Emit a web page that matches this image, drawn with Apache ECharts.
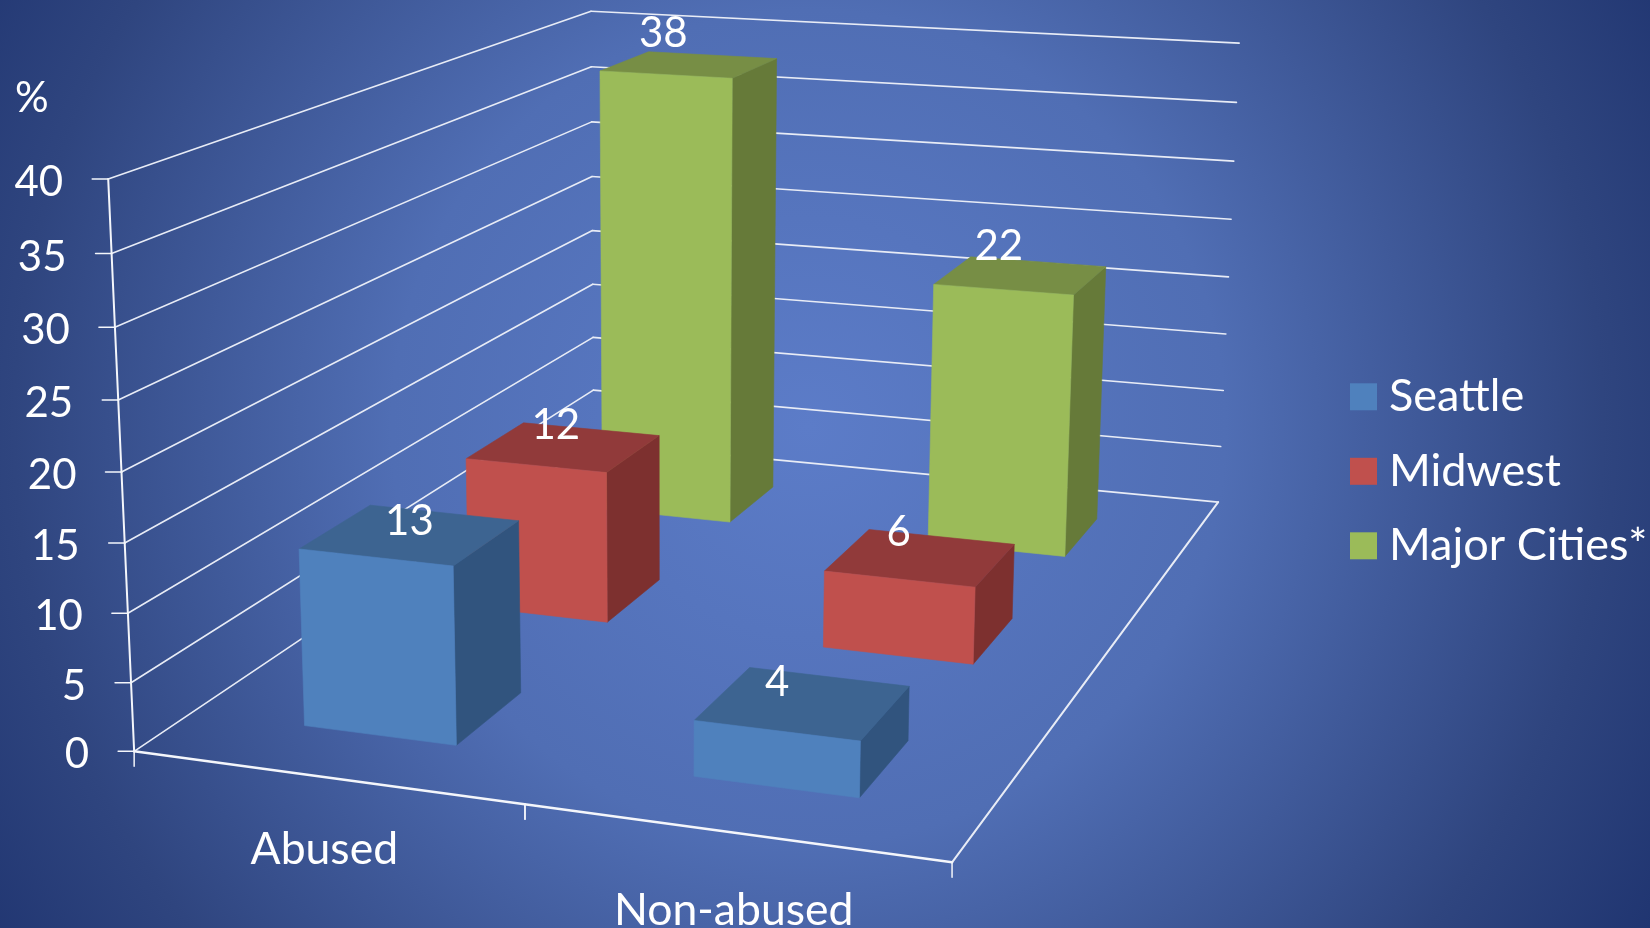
<!DOCTYPE html>
<html><head><meta charset="utf-8">
<style>html,body{margin:0;padding:0;background:#2f457f;overflow:hidden}#c{width:1650px;height:928px}</style>
<script src="https://cdn.jsdelivr.net/npm/echarts@6/dist/echarts.min.js"></script></head>
<body><div id="c"></div>
<script>
// ---- data ----
const categories=['Abused','Non-abused'];
const seriesNames=['Seattle','Midwest','Major Cities*'];
const seattle=[13,4];
const midwest=[12,6];
const majorCities=[38,22];
const yTicks=[0,5,10,15,20,25,30,35,40];
const yLabels=['0','5','10','15','20','25','30','35','40'];
const yUnit='%';
// ---- style ----
const FONT='Lato, "Open Sans", sans-serif';
const faceColors=[
  {front:'#4F81BD',top:'#3D6491',side:'#31547E'},
  {front:'#C0504D',top:'#913A3A',side:'#7D302F'},
  {front:'#9BBB59',top:'#778E45',side:'#667A39'}];
const LABEL_NUDGE=[[[-1,-13],[-26,-21]],[[-8,-22],[-22,-25]],[[-26,-31],[-22,-29]]];
const CAT_DROP=[72,78];
const BAR_FRACTION=0.4;
// ---- camera: fitted to the box's corners (u along categories, v into depth, h up) ----
const CAL=[[0,0,0,133.5,751.3],[0,0,.5,122,471.3],[0,0,1,108.5,179.3],[0,1,1,590.6,11.3],[0,1,.5,591.5,230],[0,1,0,595,443],[1,1,1,1239.5,43.3],[1,1,.5,1228.8,277],[1,1,0,1217.5,501.7],[1,0,0,952.3,862.3],[.5,0,0,524.6,804.7]];
function solve(A,b){const n=b.length;for(let i=0;i<n;i++){let m=i;for(let r=i+1;r<n;r++)if(Math.abs(A[r][i])>Math.abs(A[m][i]))m=r;[A[i],A[m]]=[A[m],A[i]];[b[i],b[m]]=[b[m],b[i]];for(let r=i+1;r<n;r++){const f=A[r][i]/A[i][i];for(let c=i;c<n;c++)A[r][c]-=f*A[i][c];b[r]-=f*b[i];}}const x=new Array(n);for(let i=n-1;i>=0;i--){let s=b[i];for(let c=i+1;c<n;c++)s-=A[i][c]*x[c];x[i]=s/A[i][i];}return x;}
function fit(){const R=[],Y=[];CAL.forEach(([u,v,h,x,y])=>{x/=1000;y/=1000;R.push([u,v,h,1,0,0,0,0,-x*u,-x*v,-x*h]);Y.push(x);R.push([0,0,0,0,u,v,h,1,-y*u,-y*v,-y*h]);Y.push(y);});
const N=Array.from({length:11},()=>new Array(11).fill(0)),B=new Array(11).fill(0);R.forEach((r,k)=>{for(let i=0;i<11;i++){B[i]+=r[i]*Y[k];for(let j=0;j<11;j++)N[i][j]+=r[i]*r[j];}});return solve(N,B);}
const P=fit();
function proj(u,v,h){const w=P[8]*u+P[9]*v+P[10]*h+1;return [1000*(P[0]*u+P[1]*v+P[2]*h+P[3])/w,1000*(P[4]*u+P[5]*v+P[6]*h+P[7])/w];}
// scale helpers: axis pixel -> box fraction
function uOf(api,params,cat){const g=params.coordSys;return (api.coord([cat,0])[0]-g.x)/g.width;}
function hOf(api,params,val){const g=params.coordSys;return (g.y+g.height-api.coord([0,val])[1])/g.height;}
function line(a,b,w,c){return {type:'line',shape:{x1:a[0],y1:a[1],x2:b[0],y2:b[1]},style:{stroke:c||'#E8ECF6',lineWidth:w||1.6,lineCap:'round'},silent:true};}
function poly(pts,c){return {type:'polygon',shape:{points:pts},style:{fill:c,stroke:c,lineWidth:0.6},silent:true};}
function txt(t,x,y,align,size){return {type:'text',style:{text:t,x:x,y:y,fill:'#FFFFFF',fontFamily:FONT,fontSize:size||42,align:align||'center',verticalAlign:'middle'},silent:true};}
function renderFrame(params,api){
  const val=api.value(1),h=hOf(api,params,val),kids=[];
  const a=proj(0,0,h),b=proj(0,1,h),c=proj(1,1,h);
  if(val>0){kids.push(line(a,b),line(b,c));}
  else{kids.push(line(a,b),line(b,c),line(c,proj(1,0,0),2),line(proj(0,0,0),proj(1,0,0),2.5,'#F4F6FB'));}
  kids.push(line([a[0]-16,a[1]],a,1.5,'#F4F6FB'));
  if(params.dataIndex<yTicks.length-1){const n=proj(0,0,hOf(api,params,yTicks[params.dataIndex+1]));kids.push(line(a,n,2,'#F4F6FB'));}
  kids.push(txt(yLabels[params.dataIndex],a[0]-45,a[1]+3.5,'right'));
  return {type:'group',children:kids};
}
function renderCat(params,api){
  const i=api.value(0),u=uOf(api,params,i),half=uOf(api,params,0);
  const kids=[];
  [u-half,u+half].forEach(t=>{const p=proj(t,0,0);kids.push(line(p,[p[0],p[1]+15],1.5,'#F4F6FB'));});
  const p=proj(u,0,0);
  kids.push(txt(categories[i],p[0]-(i?0:1),p[1]+CAT_DROP[i],'center',44.5));
  return {type:'group',children:kids};
}
function makeBar(si){
  return function(params,api){
    const cat=api.value(0),val=api.value(1),uc=uOf(api,params,cat),h=hOf(api,params,val);
    const du=BAR_FRACTION*uOf(api,params,0),vc=(si+.5)/seriesNames.length,dv=BAR_FRACTION/seriesNames.length/2;
    const u0=uc-du,u1=uc+du,v0=vc-dv,v1=vc+dv,f=faceColors[si];
    const top=[proj(u0,v0,h),proj(u1,v0,h),proj(u1,v1,h),proj(u0,v1,h)];
    const kids=[
      poly([proj(u1,v0,0),proj(u1,v1,0),top[2],top[1]],f.side),
      poly(top,f.top),
      poly([proj(u0,v0,0),proj(u1,v0,0),top[1],top[0]],f.front)];
    const c=proj((u0+u1)/2,(v0+v1)/2,h),nudge=LABEL_NUDGE[si][params.dataIndex];
    kids.push(txt(String(val),c[0]+nudge[0],c[1]+nudge[1]));
    return {type:'group',children:kids};
  };
}
const values=[seattle,midwest,majorCities];
const chart=echarts.init(document.getElementById('c'));
chart.setOption({
  animation:false,
  backgroundColor:new echarts.graphic.RadialGradient(0.49,0.46,1.07,[
    {offset:0,color:'#5C7CC8'},{offset:0.42,color:'#506EB4'},{offset:0.8,color:'#2F457F'},{offset:1,color:'#1F3470'}]),
  title:{text:yUnit,left:15,top:77,padding:0,textStyle:{color:'#fff',fontFamily:FONT,fontSize:42,fontWeight:'normal'}},
  legend:{orient:'vertical',left:1350,top:374.3,padding:0,itemWidth:27,itemHeight:27,itemGap:29.5,icon:'rect',data:seriesNames,
    textStyle:{color:'#fff',fontFamily:FONT,fontSize:45,padding:[0,0,0,7]},selectedMode:false},
  grid:{left:0,right:0,top:0,bottom:0},
  xAxis:{type:'category',data:categories,show:false},
  yAxis:{type:'value',min:0,max:40,interval:5,show:false},
  tooltip:{show:false},
  series:[
    {type:'custom',name:'frame',z:1,silent:true,renderItem:renderFrame,encode:{x:0,y:1},data:yTicks.map(t=>[0,t])},
    {type:'custom',name:'categories',z:2,silent:true,renderItem:renderCat,encode:{x:0,y:1},data:categories.map((c,i)=>[i,0])},
    ...seriesNames.map((n,si)=>({type:'custom',name:n,z:5-si,silent:true,renderItem:makeBar(si),itemStyle:{color:faceColors[si].front},encode:{x:0,y:1},data:values[si].map((v,i)=>[i,v])}))
  ]
});
</script></body></html>
